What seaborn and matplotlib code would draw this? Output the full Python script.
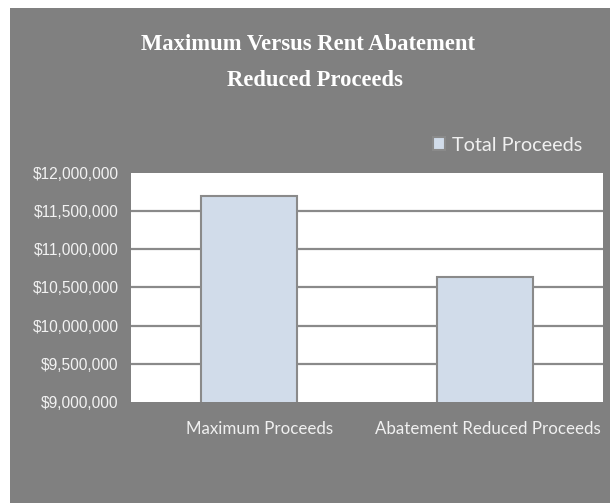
import matplotlib
matplotlib.use("Agg")
import matplotlib.pyplot as plt
import matplotlib.transforms as mtransforms
import seaborn as sns
import pandas as pd
from matplotlib.ticker import FuncFormatter

categories = ["Maximum Proceeds", "Abatement Reduced Proceeds"]
values = [11700000, 10640000]
series_name = "Total Proceeds"
y_ticks = [9000000, 9500000, 10000000, 10500000, 11000000, 11500000, 12000000]

df = pd.DataFrame({"cat": categories, "val": values, "series": [series_name] * len(categories)})

sns.set_theme(style="white")
W, H = 610, 503
fig = plt.figure(figsize=(W / 100, H / 100), dpi=100, facecolor="white")
bg = "#808080"
bgax = fig.add_axes([10 / W, 0, 600 / W, (H - 8) / H])
bgax.set_facecolor(bg)
bgax.set_xticks([])
bgax.set_yticks([])
for s in bgax.spines.values():
    s.set_visible(False)

ax = fig.add_axes([131 / W, (H - 402) / H, 472 / W, 229 / H])
ax.set_facecolor("white")
sns.barplot(data=df, x="cat", y="val", hue="series", palette=["#cddcee"], width=0.41,
            edgecolor="#8a8a8a", linewidth=1.5, ax=ax, zorder=3, legend=True)

ax.set_ylim(9000000, 12000000)
ax.set_yticks(y_ticks)
ax.yaxis.set_major_formatter(FuncFormatter(lambda v, p: f"${v:,.0f}"))
ax.grid(axis="y", color="#8a8a8a", linewidth=1.6, zorder=1)
ax.set_axisbelow(True)
gl = ax.yaxis.get_gridlines()
gl[0].set_visible(False)
gl[-1].set_visible(False)
for s in ax.spines.values():
    s.set_visible(False)
ax.set_xlabel("")
ax.set_ylabel("")
ax.tick_params(axis="y", length=0, pad=9, labelsize=11.2, labelcolor="#f2f2f2")
ax.tick_params(axis="x", length=0, pad=14, labelsize=12.2, labelcolor="#f0f0f0")
for lab in ax.get_yticklabels():
    lab.set_fontfamily("Liberation Sans")
xl = ax.get_xticklabels()
for lab in xl:
    lab.set_fontfamily("Lato")
xl[0].set_transform(xl[0].get_transform() + mtransforms.ScaledTranslation(11 / 100, 0, fig.dpi_scale_trans))
xl[1].set_transform(xl[1].get_transform() + mtransforms.ScaledTranslation(3 / 100, 0, fig.dpi_scale_trans))

leg = ax.legend(loc="center right", bbox_to_anchor=((590 - 131) / 472, 1 + 28 / 229), frameon=False,
                handlelength=0.6, handleheight=0.6, handletextpad=0.35,
                prop={"family": "Lato", "size": 14.3}, borderaxespad=0)
for t in leg.get_texts():
    t.set_color("#f0f0f0")

fig.text(308 / W, 1 - 44 / H, "Maximum Versus Rent Abatement", ha="center", va="center",
         fontsize=16.3, fontweight="bold", color="white", family="Liberation Serif")
fig.text(315 / W, 1 - 81 / H, "Reduced Proceeds", ha="center", va="center",
         fontsize=16.3, fontweight="bold", color="white", family="Liberation Serif")

fig.savefig("out.png", dpi=100, facecolor="white")
